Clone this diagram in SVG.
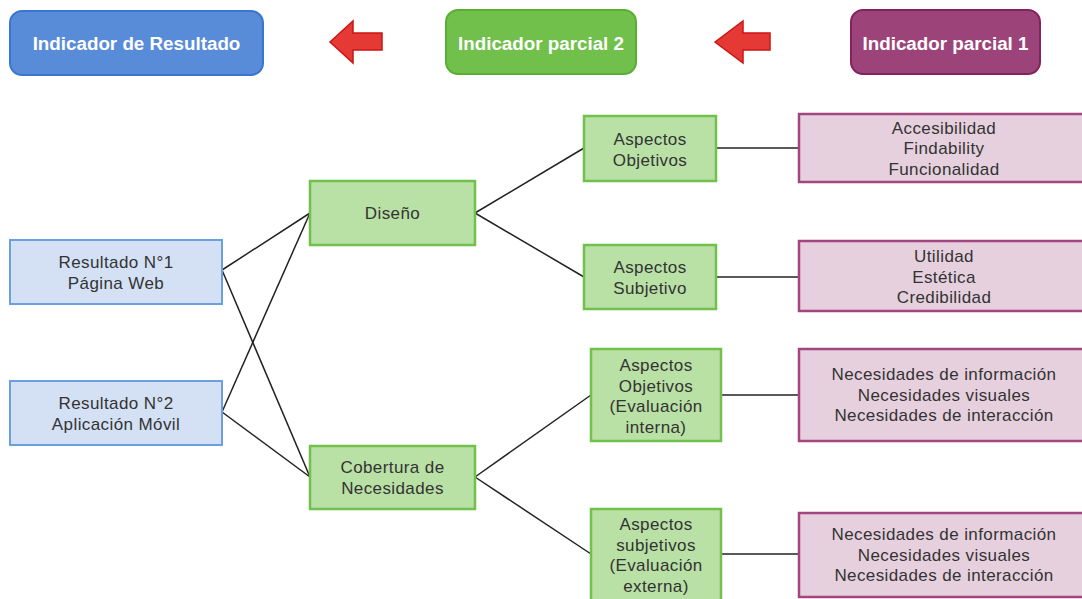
<svg xmlns="http://www.w3.org/2000/svg" width="1082" height="599" viewBox="0 0 1082 599">
  <defs>
    <style>
      .hdr { stroke-width: 2; }
      .hdr-text { font-family: "Liberation Sans", Arial, sans-serif; font-weight: bold; font-size: 18.8px; fill: #ffffff; text-anchor: middle; }
      .txt { font-family: "Liberation Sans", Arial, sans-serif; font-size: 17px; letter-spacing: 0.4px; fill: #333333; text-anchor: middle; }
      .res { fill: #d4e1f5; stroke: #6c9fe0; stroke-width: 2; }
      .mid { fill: #b9e0a5; stroke: #72c14d; stroke-width: 2.5; }
      .ind { fill: #e6d0de; stroke: #a3457f; stroke-width: 2.5; }
      .arrow { fill: #e53935; stroke: #cc1515; stroke-width: 1.5; stroke-linejoin: miter; }
      .link { stroke: #222222; stroke-width: 1.5; fill: none; }
    </style>
  </defs>
  <rect width="1082" height="599" fill="#ffffff"/>

  <!-- header legend -->
  <g id="hdr-resultado">
    <rect class="hdr" x="10" y="11" width="253" height="64" rx="12" fill="#588bd8" stroke="#3a76cf"/>
    <text class="hdr-text" x="136.5" y="50">Indicador de Resultado</text>
  </g>
  <g id="hdr-parcial2">
    <rect class="hdr" x="446" y="10" width="190" height="64" rx="12" fill="#70c04b" stroke="#5aae33"/>
    <text class="hdr-text" x="541" y="50">Indicador parcial 2</text>
  </g>
  <g id="hdr-parcial1">
    <rect class="hdr" x="851" y="10" width="189" height="64" rx="12" fill="#9c4479" stroke="#84215f"/>
    <text class="hdr-text" x="945.5" y="50">Indicador parcial 1</text>
  </g>
  <g id="arrow-1">
    <polygon class="arrow" points="330,42 353,21 353,33 382,33 382,50 353,50 353,63"/>
  </g>
  <g id="arrow-2">
    <polygon class="arrow" points="715,42 743,21 743,33 770,33 770,50 743,50 743,63"/>
  </g>

  <!-- connectors -->
  <g id="connectors">
    <line class="link" x1="222" y1="270" x2="310" y2="213"/>
    <line class="link" x1="222" y1="270" x2="310" y2="477"/>
    <line class="link" x1="222" y1="412" x2="310" y2="213"/>
    <line class="link" x1="222" y1="412" x2="310" y2="477"/>
    <line class="link" x1="475" y1="213" x2="584" y2="148"/>
    <line class="link" x1="475" y1="213" x2="584" y2="277"/>
    <line class="link" x1="716" y1="148" x2="799" y2="148"/>
    <line class="link" x1="716" y1="277" x2="799" y2="277"/>
    <line class="link" x1="475" y1="477" x2="591" y2="395"/>
    <line class="link" x1="475" y1="477" x2="591" y2="554"/>
    <line class="link" x1="721" y1="395" x2="799" y2="395"/>
    <line class="link" x1="721" y1="554" x2="799" y2="554"/>
  </g>

  <!-- results -->
  <g id="resultado-1">
    <rect class="res" x="10" y="240" width="212" height="64"/>
    <text class="txt"><tspan x="116" y="268">Resultado N°1</tspan><tspan x="116" y="288.5">Página Web</tspan></text>
  </g>
  <g id="resultado-2">
    <rect class="res" x="10" y="381" width="212" height="64"/>
    <text class="txt"><tspan x="116" y="409">Resultado N°2</tspan><tspan x="116" y="429.5">Aplicación Móvil</tspan></text>
  </g>

  <!-- partial indicators 2 -->
  <g id="diseno">
    <rect class="mid" x="310" y="181" width="165" height="64"/>
    <text class="txt" x="392.5" y="219">Diseño</text>
  </g>
  <g id="cobertura">
    <rect class="mid" x="310" y="446" width="165" height="63"/>
    <text class="txt"><tspan x="392.5" y="473">Cobertura de</tspan><tspan x="392.5" y="493.5">Necesidades</tspan></text>
  </g>
  <g id="aspectos-objetivos">
    <rect class="mid" x="584" y="116" width="132" height="65"/>
    <text class="txt"><tspan x="650" y="145">Aspectos</tspan><tspan x="650" y="165.5">Objetivos</tspan></text>
  </g>
  <g id="aspectos-subjetivo">
    <rect class="mid" x="584" y="245" width="132" height="64"/>
    <text class="txt"><tspan x="650" y="273">Aspectos</tspan><tspan x="650" y="293.5">Subjetivo</tspan></text>
  </g>
  <g id="aspectos-objetivos-interna">
    <rect class="mid" x="591" y="349" width="130" height="92"/>
    <text class="txt"><tspan x="656" y="371">Aspectos</tspan><tspan x="656" y="391.5">Objetivos</tspan><tspan x="656" y="412">(Evaluación</tspan><tspan x="656" y="432.5">interna)</tspan></text>
  </g>
  <g id="aspectos-subjetivos-externa">
    <rect class="mid" x="591" y="509" width="130" height="96"/>
    <text class="txt"><tspan x="656" y="530">Aspectos</tspan><tspan x="656" y="550.5">subjetivos</tspan><tspan x="656" y="571">(Evaluación</tspan><tspan x="656" y="591.5">externa)</tspan></text>
  </g>

  <!-- partial indicators 1 -->
  <g id="ind-objetivos">
    <rect class="ind" x="799" y="114" width="292" height="68"/>
    <text class="txt"><tspan x="944" y="133.5">Accesibilidad</tspan><tspan x="944" y="154">Findability</tspan><tspan x="944" y="174.5">Funcionalidad</tspan></text>
  </g>
  <g id="ind-subjetivo">
    <rect class="ind" x="799" y="241" width="292" height="70"/>
    <text class="txt"><tspan x="944" y="262">Utilidad</tspan><tspan x="944" y="282.5">Estética</tspan><tspan x="944" y="303">Credibilidad</tspan></text>
  </g>
  <g id="ind-interna">
    <rect class="ind" x="799" y="349" width="292" height="92"/>
    <text class="txt"><tspan x="944" y="380">Necesidades de información</tspan><tspan x="944" y="400.5">Necesidades visuales</tspan><tspan x="944" y="421">Necesidades de interacción</tspan></text>
  </g>
  <g id="ind-externa">
    <rect class="ind" x="799" y="513" width="292" height="84"/>
    <text class="txt"><tspan x="944" y="540">Necesidades de información</tspan><tspan x="944" y="560.5">Necesidades visuales</tspan><tspan x="944" y="581">Necesidades de interacción</tspan></text>
  </g>
</svg>
